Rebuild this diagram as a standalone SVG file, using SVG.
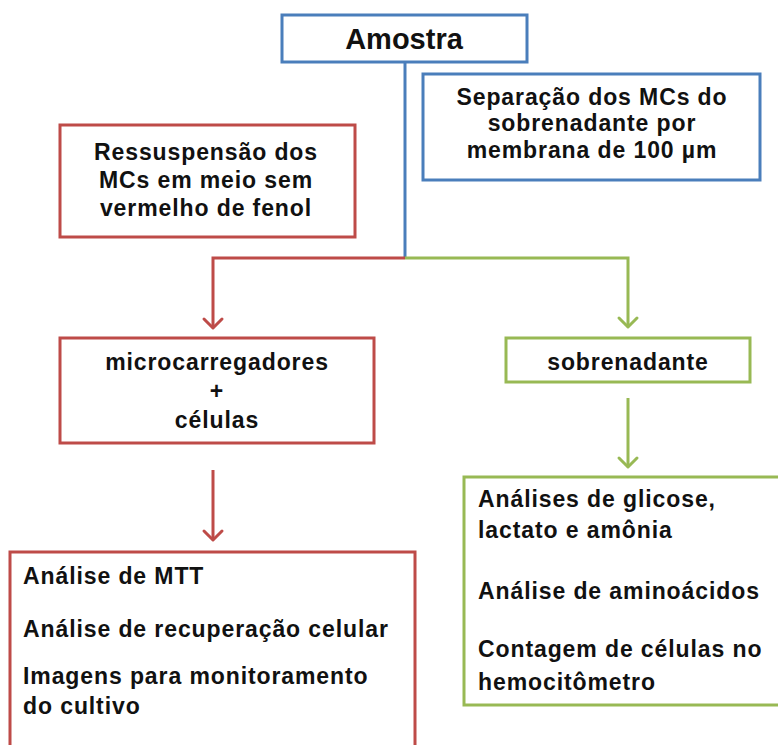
<svg xmlns="http://www.w3.org/2000/svg" width="778" height="745" viewBox="0 0 778 745">
<style>
.box{fill:#fff;stroke-width:3}
.b{stroke:#4A7EBB}
.r{stroke:#BE4B48}
.g{stroke:#98B954}
.t{font-family:"Liberation Sans",Arial,sans-serif;font-weight:bold;font-size:23px;fill:#111;letter-spacing:0.9px}
.c{text-anchor:middle}
.ln{fill:none;stroke-width:3}
</style>
<defs>
<marker id="ar" viewBox="-12 -12 24 24" refX="0" refY="0" markerWidth="24" markerHeight="24" markerUnits="userSpaceOnUse" orient="auto">
<path d="M-9,-9 L0,0 L-9,9" fill="none" stroke="#BE4B48" stroke-width="3" stroke-linecap="round" stroke-linejoin="round"/>
</marker>
<marker id="ag" viewBox="-12 -12 24 24" refX="0" refY="0" markerWidth="24" markerHeight="24" markerUnits="userSpaceOnUse" orient="auto">
<path d="M-9,-9 L0,0 L-9,9" fill="none" stroke="#98B954" stroke-width="3" stroke-linecap="round" stroke-linejoin="round"/>
</marker>
</defs>
<rect width="778" height="745" fill="#fff"/>
<g id="connectors">
<path class="ln b" d="M405,62 V258"/>
<path class="ln r" d="M405,258 H213 V328" marker-end="url(#ar)"/>
<path class="ln g" d="M405,258 H628 V327" marker-end="url(#ag)"/>
<path class="ln r" d="M213,470 V540" marker-end="url(#ar)"/>
<path class="ln g" d="M628,398 V467" marker-end="url(#ag)"/>
</g>
<g id="amostra">
<rect class="box b" x="282" y="15" width="245" height="47"/>
<text class="t c" x="404" y="49" style="font-size:29px;letter-spacing:0">Amostra</text>
</g>
<g id="separacao">
<rect class="box b" x="423" y="74" width="337" height="106"/>
<text class="t c" x="592" y="105">Separação dos MCs do</text>
<text class="t c" x="592" y="131">sobrenadante por</text>
<text class="t c" x="592" y="158">membrana de 100 µm</text>
</g>
<g id="ressuspensao">
<rect class="box r" x="60" y="125" width="295" height="112"/>
<text class="t c" x="206" y="160">Ressuspensão dos</text>
<text class="t c" x="206" y="188">MCs em meio sem</text>
<text class="t c" x="206" y="216">vermelho de fenol</text>
</g>
<g id="microcarregadores">
<rect class="box r" x="60" y="338" width="314" height="105"/>
<text class="t c" x="217" y="370">microcarregadores</text>
<text class="t c" x="217" y="399">+</text>
<text class="t c" x="217" y="428">células</text>
</g>
<g id="sobrenadante">
<rect class="box g" x="506" y="338" width="244" height="44"/>
<text class="t c" x="628" y="370">sobrenadante</text>
</g>
<g id="analises-mcs">
<rect class="box r" x="10" y="552" width="405" height="210"/>
<text class="t" x="23" y="584">Análise de MTT</text>
<text class="t" x="23" y="637">Análise de recuperação celular</text>
<text class="t" x="23" y="684">Imagens para monitoramento</text>
<text class="t" x="23" y="714">do cultivo</text>
</g>
<g id="analises-sobrenadante">
<rect class="box g" x="464" y="477" width="330" height="228"/>
<text class="t" x="478" y="507">Análises de glicose,</text>
<text class="t" x="478" y="538">lactato e amônia</text>
<text class="t" x="478" y="599">Análise de aminoácidos</text>
<text class="t" x="478" y="657">Contagem de células no</text>
<text class="t" x="478" y="690">hemocitômetro</text>
</g>
</svg>
